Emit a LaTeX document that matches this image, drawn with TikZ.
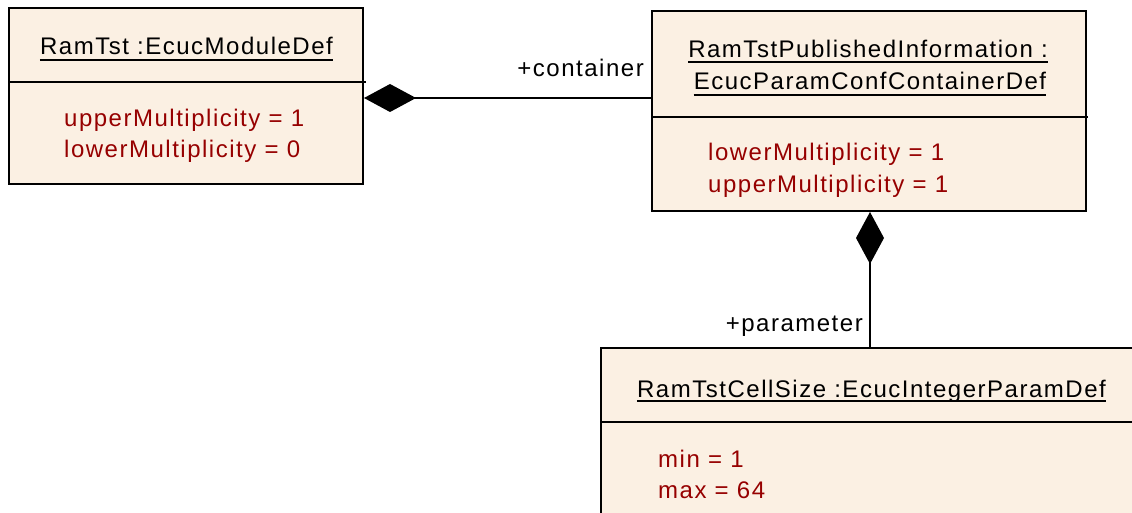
\documentclass[tikz,border=0pt]{standalone}
\usepackage{fontspec}
\setmainfont{Liberation Sans}[LetterSpace=6.3]
\usetikzlibrary{arrows.meta}
\definecolor{umlfill}{RGB}{251,240,227}
\definecolor{attrred}{RGB}{150,0,0}
\tikzset{
  umlbox/.style={draw=black, fill=umlfill, line width=2pt, inner sep=0pt, anchor=north west},
  divider/.style={line width=2pt},
  txt/.style={inner sep=0pt, font=\fontsize{24}{28}\selectfont},
  ttl/.style={txt, anchor=base, text=black},
  attr/.style={txt, anchor=base west, text=attrred},
  rolelbl/.style={txt, anchor=base east, text=black},
  uline/.style={line width=1.5pt},
  comp/.style={line width=2pt, {Diamond[length=52pt,width=28pt]}-}
}
\begin{document}
\begin{tikzpicture}[x=1pt,y=-1pt]
\useasboundingbox (0,0) rectangle (1132,513);
\clip (0,0) rectangle (1132,513);
% boxes
\node[umlbox, minimum width=354pt, minimum height=176pt] (b1) at (8,7) {};
\node[umlbox, minimum width=434pt, minimum height=200pt] (b2) at (651,10) {};
\node[umlbox, minimum width=543pt, minimum height=200pt] (b3) at (600,347) {};
% dividers
\draw[divider] ([yshift=-75pt]b1.north west) -- ++(358,0);
\draw[divider] ([yshift=-107pt]b2.north west) -- ++(437,0);
\draw[divider] ([yshift=-75pt]b3.north west) -- ++(545,0);
% titles
\node[ttl] (t1) at (186.5,55) {RamTst :EcucModuleDef};
\draw[uline] ([yshift=-5pt]t1.base west) -- ([yshift=-5pt]t1.base east);
\node[ttl] (t2a) at (868,58) {RamTstPublishedInformation :};
\draw[uline] ([yshift=-4pt]t2a.base west) -- ([yshift=-4pt]t2a.base east);
\node[ttl] (t2b) at (870,90) {EcucParamConfContainerDef};
\draw[uline] ([yshift=-5pt]t2b.base west) -- ([yshift=-5pt]t2b.base east);
\node[ttl] (t3) at (871.5,397) {RamTstCellSize :EcucIntegerParamDef};
\draw[uline] ([yshift=-4pt]t3.base west) -- ([yshift=-4pt]t3.base east);
% attributes
\node[attr] (a1) at (64,127) {upperMultiplicity = 1};
\node[attr] (a2) at (64,158) {lowerMultiplicity = 0};
\node[attr] (a3) at (708,161) {lowerMultiplicity = 1};
\node[attr] (a4) at (708,193) {upperMultiplicity = 1};
\node[attr] (a5) at (658,467) {min = 1};
\node[attr] (a6) at (658,498) {max = 64};
% connectors
\draw[comp] ([yshift=-2pt]b1.east) -- ([yshift=-2pt]b1.east -| b2.west);
\draw[comp] ([xshift=1pt]b2.south) -- ([xshift=1pt]b2.south |- b3.north);
% role labels
\node[rolelbl] (lc) at (644,77) {+container};
\node[rolelbl] (lp) at (863,331) {+parameter};
\end{tikzpicture}
\end{document}
